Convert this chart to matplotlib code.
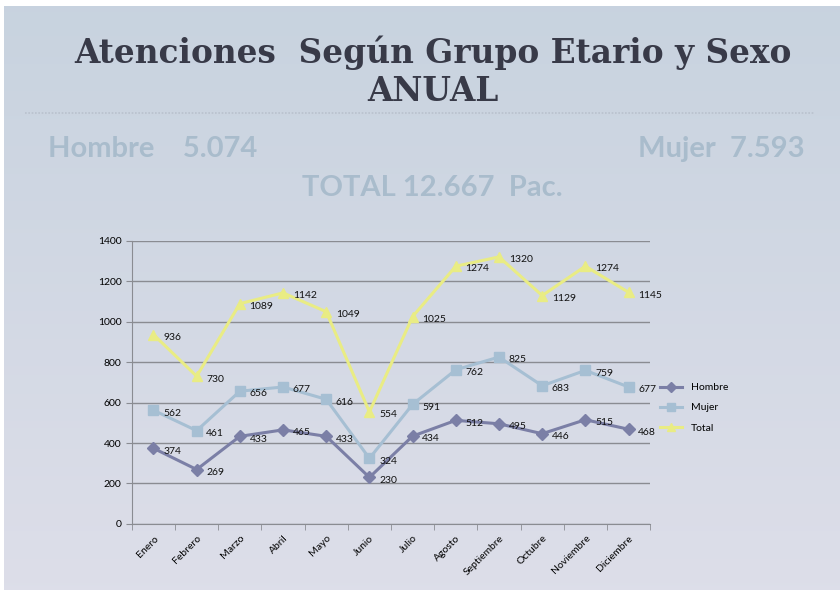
import matplotlib
matplotlib.use("Agg")
import matplotlib.pyplot as plt
import numpy as np
from matplotlib.lines import Line2D

months = ["Enero", "Febrero", "Marzo", "Abril", "Mayo", "Junio", "Julio",
          "Agosto", "Septiembre", "Octubre", "Noviembre", "Diciembre"]
hombre = [374, 269, 433, 465, 433, 230, 434, 512, 495, 446, 515, 468]
mujer = [562, 461, 656, 677, 616, 324, 591, 762, 825, 683, 759, 677]
total = [936, 730, 1089, 1142, 1049, 554, 1025, 1274, 1320, 1129, 1274, 1145]
yticks = [0, 200, 400, 600, 800, 1000, 1200, 1400]

title1 = "Atenciones  Según Grupo Etario y Sexo"
title2 = "ANUAL"
sub_h = "Hombre    5.074"
sub_m = "Mujer  7.593"
sub_t = "TOTAL 12.667  Pac."

fig = plt.figure(figsize=(8.4, 5.9), dpi=100)
fig.patch.set_facecolor("white")

# background gradient
bg = fig.add_axes([0.005, 0.0, 0.995, 0.99], zorder=-10)
grad = np.linspace(0, 1, 256).reshape(-1, 1)
top = np.array([0.784, 0.827, 0.875])
bot = np.array([0.867, 0.871, 0.914])
img = top + (bot - top) * grad[:, :, None]
img = img.reshape(256, 1, 3)
bg.imshow(img, aspect="auto", extent=[0, 1, 0, 1])
bg.set_axis_off()

# titles
fig.text(0.515, 0.910, title1, ha="center", va="center", fontsize=23.6,
         fontweight="bold", family="DejaVu Serif", color="#383a48")
fig.text(0.515, 0.845, title2, ha="center", va="center", fontsize=23.6,
         fontweight="bold", family="DejaVu Serif", color="#383a48")
fig.add_artist(Line2D([0.03, 0.97], [0.808, 0.808], transform=fig.transFigure,
                      color="#b9c1cd", lw=1.2, ls=(0, (1, 1))))

subc = "#a9bccc"
fig.text(0.057, 0.747, sub_h, ha="left", va="center", fontsize=21,
         fontweight="bold", family="Lato", color=subc)
fig.text(0.958, 0.747, sub_m, ha="right", va="center", fontsize=21,
         fontweight="bold", family="Lato", color=subc)
fig.text(0.515, 0.681, sub_t, ha="center", va="center", fontsize=21,
         fontweight="bold", family="Lato", color=subc)

ax = fig.add_axes([0.157, 0.112, 0.617, 0.48])
ax.set_facecolor("none")
x = np.arange(len(months))
c_h = "#7b7fa6"
c_m = "#a6bfd3"
c_t = "#e9ec84"
ax.plot(x, hombre, color=c_h, lw=2.2, marker="D", ms=6, label="Hombre", zorder=3)
ax.plot(x, mujer, color=c_m, lw=2.2, marker="s", ms=7, label="Mujer", zorder=3)
ax.plot(x, total, color=c_t, lw=2.2, marker="^", ms=7, label="Total", zorder=3)

for series in (hombre, mujer, total):
    for xi, v in zip(x, series):
        ax.annotate(str(v), (xi, v), xytext=(7, -2), textcoords="offset points",
                    fontsize=7.5, family="Lato", color="#111111", va="center",
                    ha="left", zorder=4)

ax.set_xlim(-0.5, len(months) - 0.5)
ax.set_ylim(0, 1400)
ax.set_yticks(yticks)
ax.set_yticklabels([str(t) for t in yticks], fontsize=7.5, family="Lato")
ax.yaxis.grid(True, color="#8a8c92", lw=1)
ax.set_axisbelow(True)
ax.set_xticks(x)
ax.set_xticklabels(months, rotation=45, ha="right", rotation_mode="anchor",
                   fontsize=7.5, family="Lato")
ax.set_xticks(np.arange(-0.5, len(months)), minor=True)
ax.tick_params(axis="x", which="major", length=0, pad=7)
ax.tick_params(axis="x", which="minor", length=4, color="#8a8c92")
ax.tick_params(axis="y", length=4, color="#8a8c92")
for s in ("top", "right"):
    ax.spines[s].set_visible(False)
for s in ("left", "bottom"):
    ax.spines[s].set_color("#8a8c92")

leg = ax.legend(loc="center left", bbox_to_anchor=(1.0, 0.41), frameon=False,
                handlelength=2.2, labelspacing=1.05, markerscale=0.8,
                prop={"family": "Lato", "size": 7.5})

fig.savefig("out.png", dpi=100)
